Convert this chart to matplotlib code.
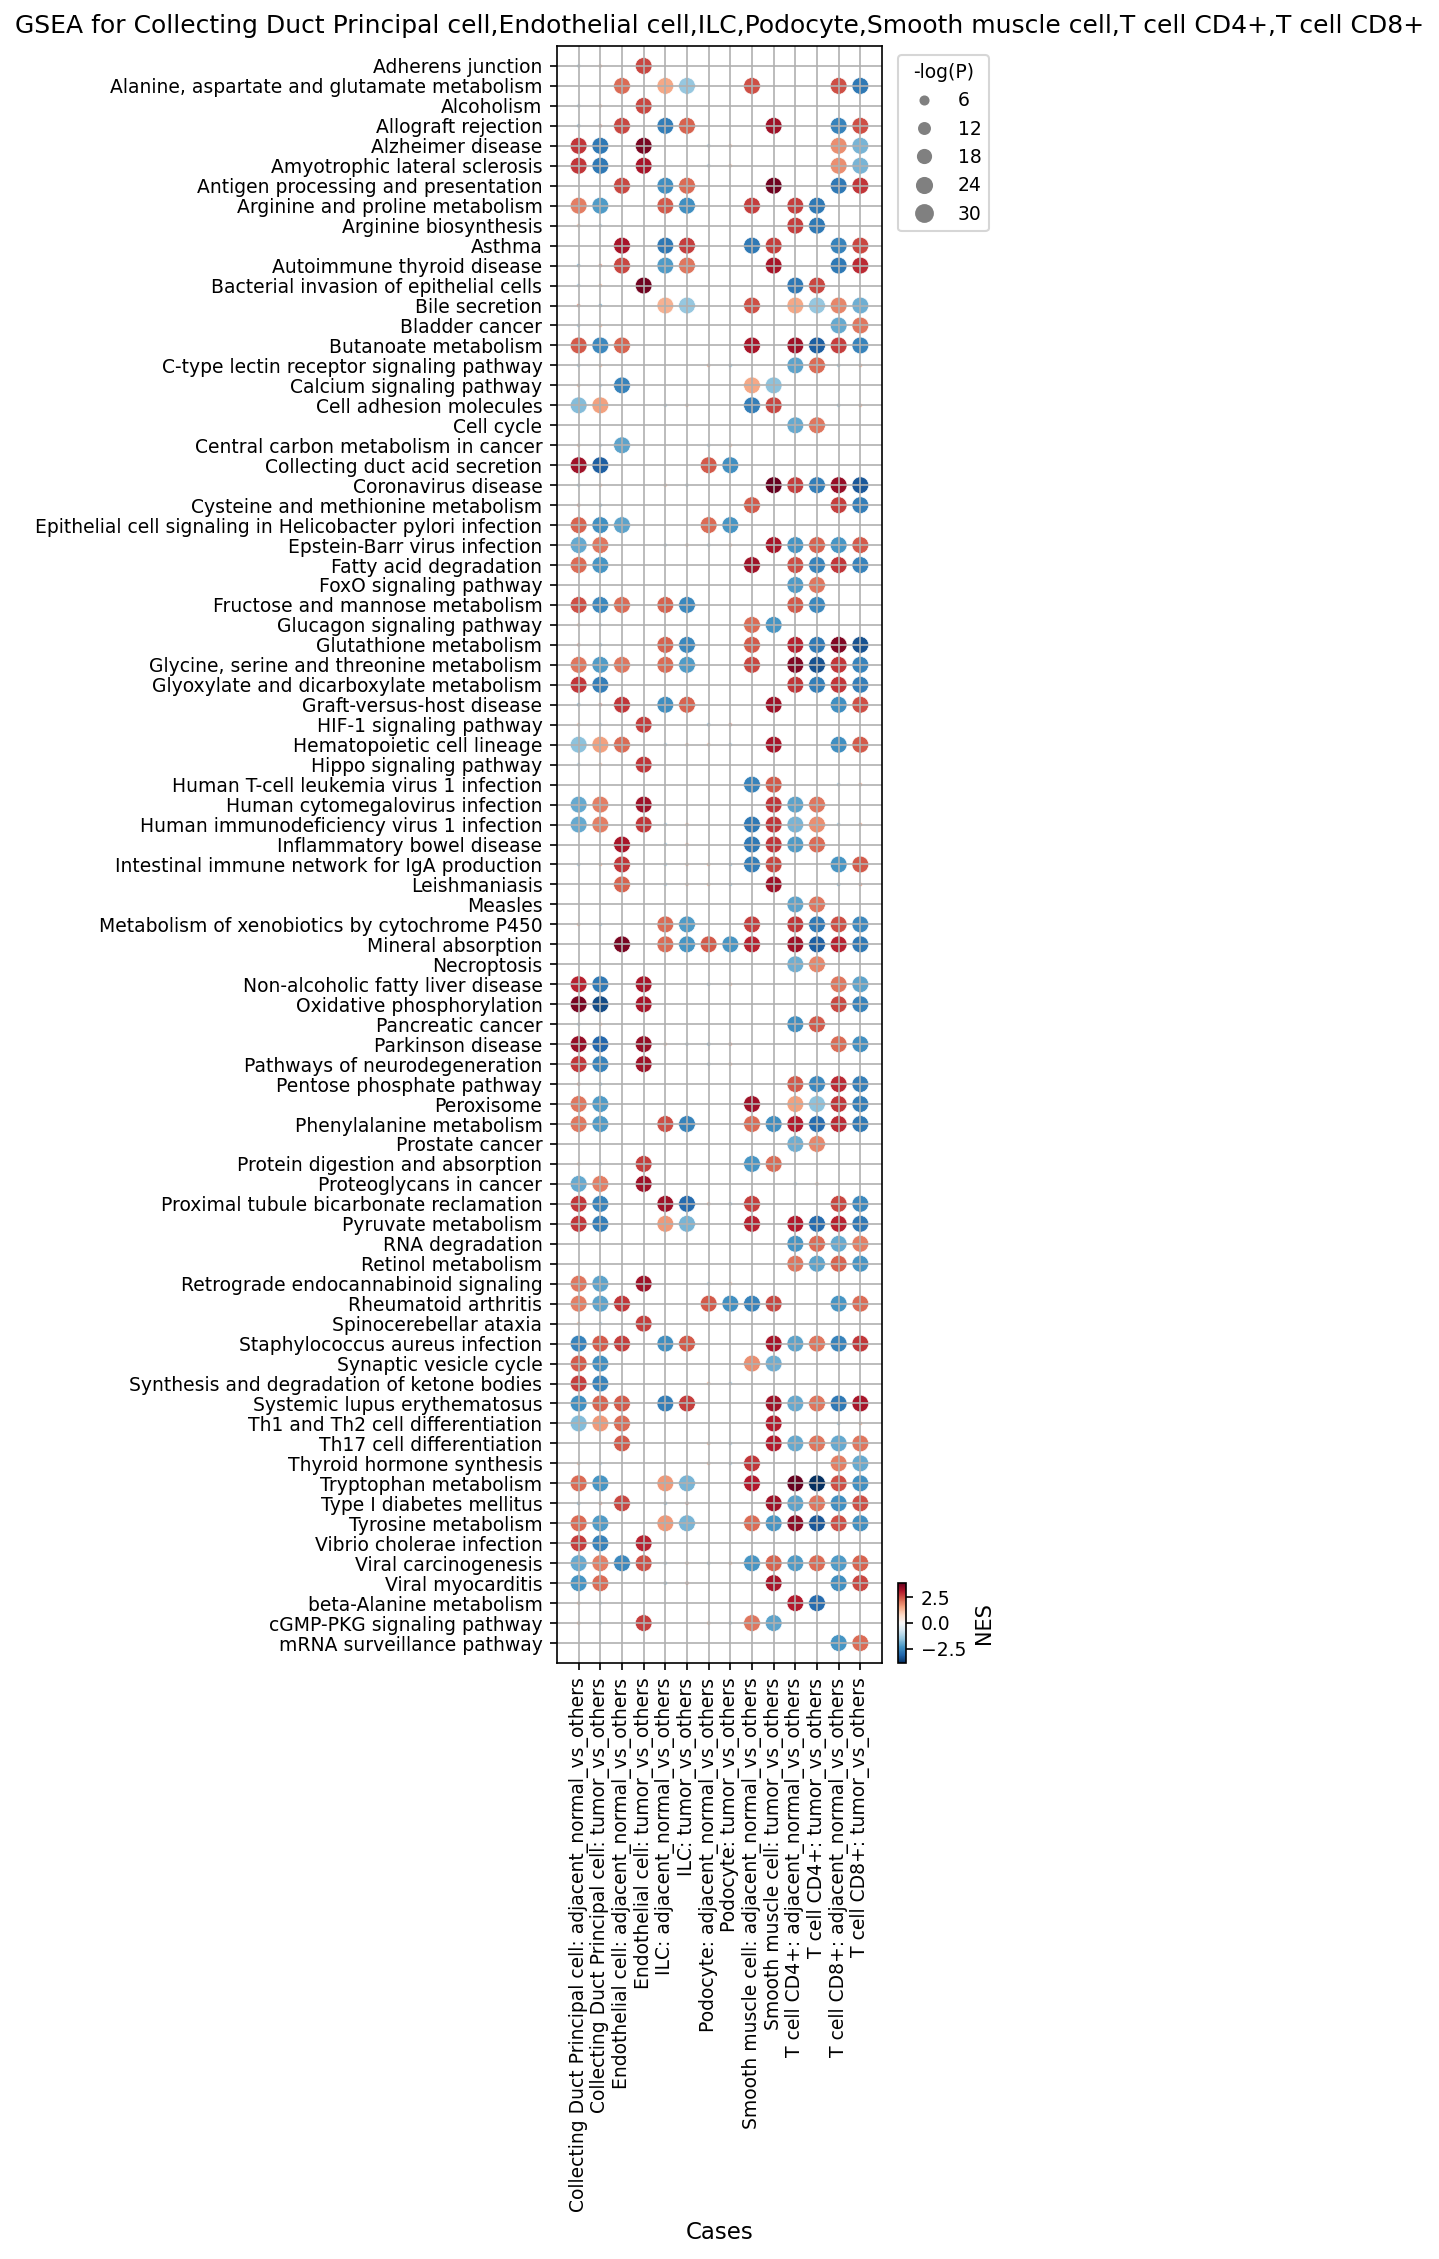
import numpy as np
import matplotlib
matplotlib.use("Agg")
import matplotlib.pyplot as plt
from matplotlib.colors import Normalize
from matplotlib.lines import Line2D

na = np.nan

pathways = [
    "Adherens junction", "Alanine, aspartate and glutamate metabolism", "Alcoholism",
    "Allograft rejection", "Alzheimer disease", "Amyotrophic lateral sclerosis",
    "Antigen processing and presentation", "Arginine and proline metabolism",
    "Arginine biosynthesis", "Asthma", "Autoimmune thyroid disease",
    "Bacterial invasion of epithelial cells", "Bile secretion", "Bladder cancer",
    "Butanoate metabolism", "C-type lectin receptor signaling pathway",
    "Calcium signaling pathway", "Cell adhesion molecules", "Cell cycle",
    "Central carbon metabolism in cancer", "Collecting duct acid secretion",
    "Coronavirus disease", "Cysteine and methionine metabolism",
    "Epithelial cell signaling in Helicobacter pylori infection",
    "Epstein-Barr virus infection", "Fatty acid degradation", "FoxO signaling pathway",
    "Fructose and mannose metabolism", "Glucagon signaling pathway",
    "Glutathione metabolism", "Glycine, serine and threonine metabolism",
    "Glyoxylate and dicarboxylate metabolism", "Graft-versus-host disease",
    "HIF-1 signaling pathway", "Hematopoietic cell lineage", "Hippo signaling pathway",
    "Human T-cell leukemia virus 1 infection", "Human cytomegalovirus infection",
    "Human immunodeficiency virus 1 infection", "Inflammatory bowel disease",
    "Intestinal immune network for IgA production", "Leishmaniasis", "Measles",
    "Metabolism of xenobiotics by cytochrome P450", "Mineral absorption", "Necroptosis",
    "Non-alcoholic fatty liver disease", "Oxidative phosphorylation", "Pancreatic cancer",
    "Parkinson disease", "Pathways of neurodegeneration", "Pentose phosphate pathway",
    "Peroxisome", "Phenylalanine metabolism", "Prostate cancer",
    "Protein digestion and absorption", "Proteoglycans in cancer",
    "Proximal tubule bicarbonate reclamation", "Pyruvate metabolism", "RNA degradation",
    "Retinol metabolism", "Retrograde endocannabinoid signaling", "Rheumatoid arthritis",
    "Spinocerebellar ataxia", "Staphylococcus aureus infection", "Synaptic vesicle cycle",
    "Synthesis and degradation of ketone bodies", "Systemic lupus erythematosus",
    "Th1 and Th2 cell differentiation", "Th17 cell differentiation",
    "Thyroid hormone synthesis", "Tryptophan metabolism", "Type I diabetes mellitus",
    "Tyrosine metabolism", "Vibrio cholerae infection", "Viral carcinogenesis",
    "Viral myocarditis", "beta-Alanine metabolism", "cGMP-PKG signaling pathway",
    "mRNA surveillance pathway",
]

cases = [
    "Collecting Duct Principal cell: adjacent_normal_vs_others",
    "Collecting Duct Principal cell: tumor_vs_others",
    "Endothelial cell: adjacent_normal_vs_others",
    "Endothelial cell: tumor_vs_others",
    "ILC: adjacent_normal_vs_others",
    "ILC: tumor_vs_others",
    "Podocyte: adjacent_normal_vs_others",
    "Podocyte: tumor_vs_others",
    "Smooth muscle cell: adjacent_normal_vs_others",
    "Smooth muscle cell: tumor_vs_others",
    "T cell CD4+: adjacent_normal_vs_others",
    "T cell CD4+: tumor_vs_others",
    "T cell CD8+: adjacent_normal_vs_others",
    "T cell CD8+: tumor_vs_others",
]

# NES: one row per pathway, one column per case (na = not shown)
nes = [
    [-1.4, 1.4, na, 2.6, na, na, na, na, na, na, na, na, na, na],
    [na, na, 2.2, na, 1.5, -1.5, na, na, 2.5, na, na, na, 2.5, -2.8],
    [-1.4, 1.4, na, 2.6, na, na, na, na, na, na, na, na, na, na],
    [-2.0, 2.0, 2.6, na, -2.7, 2.3, na, na, na, 3.3, na, na, -2.6, 2.5],
    [2.8, -2.8, na, 3.7, na, na, -1.4, 1.4, na, na, na, na, 1.8, -1.8],
    [2.8, -2.8, na, 3.2, na, na, -1.4, 1.4, na, na, na, na, 1.8, -1.8],
    [na, na, 2.6, na, -2.4, 2.2, na, na, na, 3.8, na, na, -2.8, 2.8],
    [2.0, -2.2, na, na, 2.4, -2.4, na, na, 2.7, na, 2.7, -2.8, na, na],
    [1.4, -1.4, na, na, na, na, na, na, na, na, 2.7, -2.8, na, na],
    [na, na, 3.2, na, -2.8, 2.7, na, na, -2.8, 2.7, na, na, -2.6, 2.6],
    [-2.0, 2.0, 2.6, na, -2.2, 2.1, na, na, na, 3.2, na, na, -2.8, 2.9],
    [-1.4, 1.4, na, 3.8, na, na, na, na, na, na, -2.8, 2.6, na, na],
    [2.0, -2.0, na, na, 1.4, -1.5, na, na, 2.5, na, 1.5, -1.5, 1.9, -1.9],
    [-1.4, 1.4, na, na, na, na, na, na, na, na, na, na, -2.0, 2.1],
    [2.4, -2.5, 2.3, na, na, na, na, na, 3.2, na, 3.3, -3.2, 2.7, -2.6],
    [-1.4, 1.4, na, na, na, na, 1.6, -1.6, na, na, -2.1, 2.2, -1.6, 1.6],
    [1.4, -1.4, -2.6, na, na, na, na, na, 1.5, -1.6, na, na, na, na],
    [-1.7, 1.6, na, na, -1.4, 1.4, na, na, -2.7, 2.6, na, na, -1.6, 1.6],
    [na, na, na, na, na, na, na, na, na, na, -2.0, 2.1, na, na],
    [1.4, -1.4, -2.1, na, na, na, -1.4, 1.4, na, na, na, na, na, na],
    [3.3, -3.2, na, na, na, na, 2.4, -2.4, na, na, na, na, na, na],
    [-1.4, 1.4, na, na, 1.4, -1.4, na, na, na, 3.9, 2.7, -2.7, 3.4, -3.3],
    [2.0, -2.0, na, na, na, na, na, na, 2.4, na, na, na, 2.7, -2.7],
    [2.3, -2.4, -2.1, na, na, na, 2.2, -2.3, na, na, na, na, na, na],
    [-2.0, 2.1, na, na, -1.4, 1.4, -1.4, 1.4, na, 3.2, -2.3, 2.3, -2.3, 2.4],
    [2.2, -2.3, na, na, na, na, na, na, 3.3, na, 2.5, -2.6, 2.8, -2.6],
    [na, na, na, na, na, na, na, na, na, na, -2.2, 2.1, na, na],
    [2.5, -2.5, 2.2, na, 2.3, -2.5, na, na, na, na, 2.4, -2.5, na, na],
    [1.4, -1.4, na, na, na, na, na, na, 2.2, -2.3, na, na, na, na],
    [2.0, -2.0, na, na, 2.3, -2.5, na, na, 2.4, na, 3.0, -2.8, 3.6, -3.4],
    [2.1, -2.2, 2.1, na, 2.2, -2.2, na, na, 2.6, na, 3.6, -3.4, 2.8, -2.6],
    [2.8, -2.7, na, na, na, na, na, na, na, na, 2.8, -2.7, 2.8, -2.7],
    [-2.2, 2.2, 2.8, na, -2.4, 2.3, na, na, na, 3.3, na, na, -2.4, 2.5],
    [1.4, -1.4, na, 2.7, na, na, -2.0, 2.0, na, na, na, na, na, na],
    [-1.6, 1.6, 2.2, na, -1.4, 1.4, 1.4, -1.4, na, 3.2, na, na, -2.4, 2.4],
    [-1.4, 1.4, na, 2.8, na, na, na, na, na, na, na, na, na, na],
    [na, na, na, na, na, na, na, na, -2.6, 2.4, na, na, -1.6, 1.6],
    [-2.0, 2.0, na, 3.3, na, na, na, na, na, 2.8, -2.1, 2.1, na, na],
    [-2.0, 2.0, na, 2.8, -1.4, 1.4, na, na, -2.8, 2.8, -1.8, 1.8, -1.6, 1.6],
    [na, na, 3.2, na, -1.4, 1.4, na, na, -2.8, 2.8, -2.2, 2.2, na, na],
    [-1.4, 1.4, 2.8, na, -1.4, 1.4, 1.4, -1.4, -2.7, 2.6, na, na, -2.3, 2.4],
    [na, na, 2.3, na, -1.4, 1.4, 1.4, -1.4, na, 3.3, na, na, -1.8, 1.8],
    [na, na, na, na, na, na, na, na, na, na, -2.1, 2.1, na, na],
    [1.4, -1.4, na, na, 2.2, -2.2, na, na, 2.7, na, 2.8, -2.8, 2.5, -2.5],
    [na, na, 3.7, na, 2.2, -2.3, 2.4, -2.3, 3.0, na, 3.3, -3.2, 3.0, -2.8],
    [na, na, na, na, na, na, na, na, na, na, -1.9, 1.9, na, na],
    [3.0, -2.8, na, 3.2, na, na, -1.4, 1.4, na, na, na, na, 2.1, -2.1],
    [3.7, -3.5, na, 3.2, na, na, na, na, na, na, na, na, 2.6, -2.6],
    [-1.4, 1.4, na, na, na, na, na, na, na, na, -2.4, 2.4, na, na],
    [3.4, -3.1, na, 3.4, 1.4, -1.4, -2.0, 2.0, na, na, na, na, 2.2, -2.4],
    [2.8, -2.6, na, 3.3, na, na, -1.4, 1.4, na, na, na, na, na, na],
    [2.0, -2.0, na, na, na, na, na, na, na, na, 2.4, -2.5, 2.9, -2.7],
    [2.1, -2.2, na, na, na, na, na, na, 3.3, na, 1.6, -1.6, 2.8, -2.7],
    [2.1, -2.2, na, na, 2.5, -2.6, na, na, 2.2, -2.4, 3.1, -3.0, 2.9, -2.8],
    [na, na, na, na, na, na, na, na, na, na, -1.9, 1.9, na, na],
    [1.4, -1.4, na, 2.7, na, na, na, na, -2.3, 2.2, na, na, na, na],
    [-2.0, 2.0, na, 3.3, na, na, na, na, na, na, -1.4, 1.4, na, na],
    [2.8, -2.6, na, na, 3.3, -3.0, 1.6, -1.6, 2.7, na, na, na, 2.6, -2.5],
    [2.8, -2.7, na, na, 1.7, -1.8, na, na, 3.0, na, 3.1, -3.0, 3.0, -2.8],
    [na, na, na, na, na, na, na, na, na, na, -2.3, 2.2, -2.0, 2.0],
    [na, na, na, na, na, na, na, na, na, na, 2.1, -2.1, 2.3, -2.3],
    [2.1, -2.1, na, 3.3, na, na, -1.4, 1.4, na, na, na, na, na, na],
    [2.0, -2.1, 2.8, na, na, na, 2.4, -2.4, -2.6, 2.6, na, na, -2.3, 2.2],
    [1.4, -1.4, na, 2.7, na, na, na, na, na, na, na, na, na, na],
    [-2.6, 2.4, 2.7, na, -2.4, 2.4, na, na, na, 3.2, -2.1, 2.1, -2.6, 2.8],
    [2.4, -2.4, na, na, na, na, na, na, 1.8, -1.9, na, na, na, na],
    [2.7, -2.6, na, na, na, na, 1.4, -1.4, na, na, na, na, na, na],
    [-2.4, 2.3, 2.4, na, -2.7, 2.7, na, na, na, 3.3, -2.0, 2.1, -2.8, 3.2],
    [-1.7, 1.7, 2.2, na, na, na, na, na, na, 3.1, na, na, -1.6, 1.6],
    [na, na, 2.4, na, na, na, 1.4, -1.4, na, 3.1, -2.0, 2.1, -2.0, 2.1],
    [1.4, -1.4, na, na, na, na, 1.4, -1.4, 2.8, na, na, na, 2.0, -2.0],
    [2.2, -2.3, na, na, 1.7, -1.8, na, na, 3.1, na, 3.95, -3.95, 2.5, -2.4],
    [-2.0, 2.0, 2.6, na, -2.0, 2.0, na, na, na, 3.3, -2.1, 2.1, -2.4, 2.5],
    [2.2, -2.2, na, na, 1.7, -1.8, na, na, 2.2, -2.3, 3.5, -3.3, 2.5, -2.4],
    [2.7, -2.6, na, 3.0, na, na, na, na, na, na, na, na, na, na],
    [-2.0, 2.0, -2.5, 2.5, -1.4, 1.4, -1.4, 1.4, -2.3, 2.3, -2.2, 2.2, -2.2, 2.3],
    [-2.3, 2.2, na, na, -2.0, 2.0, na, na, na, 3.2, na, na, -2.4, 2.6],
    [1.4, -1.4, na, na, na, na, na, na, na, na, 3.1, -3.0, na, na],
    [1.4, -1.4, na, 2.7, na, na, 1.4, -1.4, 2.1, -2.1, na, na, na, na],
    [na, na, na, na, na, na, na, na, na, na, na, na, -2.3, 2.2],
]

# -log(P), same layout as nes
neglogp = [
    [0.7, 0.7, na, 30, na, na, na, na, na, na, na, na, na, na],
    [na, na, 30, na, 30, 30, na, na, 30, na, na, na, 30, 30],
    [0.7, 0.7, na, 30, na, na, na, na, na, na, na, na, na, na],
    [0.7, 0.7, 30, na, 30, 30, na, na, na, 30, na, na, 30, 30],
    [30, 30, na, 30, na, na, 0.7, 0.7, na, na, na, na, 30, 30],
    [30, 30, na, 30, na, na, 0.7, 0.7, na, na, na, na, 30, 30],
    [na, na, 30, na, 30, 30, na, na, na, 30, na, na, 30, 30],
    [30, 30, na, na, 30, 30, na, na, 30, na, 30, 30, na, na],
    [0.7, 0.7, na, na, na, na, na, na, na, na, 30, 30, na, na],
    [na, na, 30, na, 30, 30, na, na, 30, 30, na, na, 30, 30],
    [0.7, 0.7, 30, na, 30, 30, na, na, na, 30, na, na, 30, 30],
    [0.7, 0.7, na, 30, na, na, na, na, na, na, 30, 30, na, na],
    [0.7, 0.7, na, na, 30, 30, na, na, 30, na, 30, 30, 30, 30],
    [0.7, 0.7, na, na, na, na, na, na, na, na, na, na, 30, 30],
    [30, 30, 30, na, na, na, na, na, 30, na, 30, 30, 30, 30],
    [0.7, 0.7, na, na, na, na, 0.7, 0.7, na, na, 30, 30, 0.7, 0.7],
    [0.7, 0.7, 30, na, na, na, na, na, 30, 30, na, na, na, na],
    [30, 30, na, na, 0.7, 0.7, na, na, 30, 30, na, na, 0.7, 0.7],
    [na, na, na, na, na, na, na, na, na, na, 30, 30, na, na],
    [0.7, 0.7, 30, na, na, na, 0.7, 0.7, na, na, na, na, na, na],
    [30, 30, na, na, na, na, 30, 30, na, na, na, na, na, na],
    [0.7, 0.7, na, na, 0.7, 0.7, na, na, na, 30, 30, 30, 30, 30],
    [0.7, 0.7, na, na, na, na, na, na, 30, na, na, na, 30, 30],
    [30, 30, 30, na, na, na, 30, 30, na, na, na, na, na, na],
    [30, 30, na, na, 0.7, 0.7, 0.7, 0.7, na, 30, 30, 30, 30, 30],
    [30, 30, na, na, na, na, na, na, 30, na, 30, 30, 30, 30],
    [na, na, na, na, na, na, na, na, na, na, 30, 30, na, na],
    [30, 30, 30, na, 30, 30, na, na, na, na, 30, 30, na, na],
    [0.7, 0.7, na, na, na, na, na, na, 30, 30, na, na, na, na],
    [0.7, 0.7, na, na, 30, 30, na, na, 30, na, 30, 30, 30, 30],
    [30, 30, 30, na, 30, 30, na, na, 30, na, 30, 30, 30, 30],
    [30, 30, na, na, na, na, na, na, na, na, 30, 30, 30, 30],
    [0.7, 0.7, 30, na, 30, 30, na, na, na, 30, na, na, 30, 30],
    [0.7, 0.7, na, 30, na, na, 0.7, 0.7, na, na, na, na, na, na],
    [30, 30, 30, na, 0.7, 0.7, 0.7, 0.7, na, 30, na, na, 30, 30],
    [0.7, 0.7, na, 30, na, na, na, na, na, na, na, na, na, na],
    [na, na, na, na, na, na, na, na, 30, 30, na, na, 0.7, 0.7],
    [30, 30, na, 30, na, na, na, na, na, 30, 30, 30, na, na],
    [30, 30, na, 30, 0.7, 0.7, na, na, 30, 30, 30, 30, 0.7, 0.7],
    [na, na, 30, na, 0.7, 0.7, na, na, 30, 30, 30, 30, na, na],
    [0.7, 0.7, 30, na, 0.7, 0.7, 0.7, 0.7, 30, 30, na, na, 30, 30],
    [na, na, 30, na, 0.7, 0.7, 0.7, 0.7, na, 30, na, na, 0.7, 0.7],
    [na, na, na, na, na, na, na, na, na, na, 30, 30, na, na],
    [0.7, 0.7, na, na, 30, 30, na, na, 30, na, 30, 30, 30, 30],
    [na, na, 30, na, 30, 30, 30, 30, 30, na, 30, 30, 30, 30],
    [na, na, na, na, na, na, na, na, na, na, 30, 30, na, na],
    [30, 30, na, 30, na, na, 0.7, 0.7, na, na, na, na, 30, 30],
    [30, 30, na, 30, na, na, na, na, na, na, na, na, 30, 30],
    [0.7, 0.7, na, na, na, na, na, na, na, na, 30, 30, na, na],
    [30, 30, na, 30, 0.7, 0.7, 0.7, 0.7, na, na, na, na, 30, 30],
    [30, 30, na, 30, na, na, 0.7, 0.7, na, na, na, na, na, na],
    [0.7, 0.7, na, na, na, na, na, na, na, na, 30, 30, 30, 30],
    [30, 30, na, na, na, na, na, na, 30, na, 30, 30, 30, 30],
    [30, 30, na, na, 30, 30, na, na, 30, 30, 30, 30, 30, 30],
    [na, na, na, na, na, na, na, na, na, na, 30, 30, na, na],
    [0.7, 0.7, na, 30, na, na, na, na, 30, 30, na, na, na, na],
    [30, 30, na, 30, na, na, na, na, na, na, 0.7, 0.7, na, na],
    [30, 30, na, na, 30, 30, 0.7, 0.7, 30, na, na, na, 30, 30],
    [30, 30, na, na, 30, 30, na, na, 30, na, 30, 30, 30, 30],
    [na, na, na, na, na, na, na, na, na, na, 30, 30, 30, 30],
    [na, na, na, na, na, na, na, na, na, na, 30, 30, 30, 30],
    [30, 30, na, 30, na, na, 0.7, 0.7, na, na, na, na, na, na],
    [30, 30, 30, na, na, na, 30, 30, 30, 30, na, na, 30, 30],
    [0.7, 0.7, na, 30, na, na, na, na, na, na, na, na, na, na],
    [30, 30, 30, na, 30, 30, na, na, na, 30, 30, 30, 30, 30],
    [30, 30, na, na, na, na, na, na, 30, 30, na, na, na, na],
    [30, 30, na, na, na, na, 0.7, 0.7, na, na, na, na, na, na],
    [30, 30, 30, na, 30, 30, na, na, na, 30, 30, 30, 30, 30],
    [30, 30, 30, na, na, na, na, na, na, 30, na, na, 0.7, 0.7],
    [na, na, 30, na, na, na, 0.7, 0.7, na, 30, 30, 30, 30, 30],
    [0.7, 0.7, na, na, na, na, 0.7, 0.7, 30, na, na, na, 30, 30],
    [30, 30, na, na, 30, 30, na, na, 30, na, 30, 30, 30, 30],
    [0.7, 0.7, 30, na, 0.7, 0.7, na, na, na, 30, 30, 30, 30, 30],
    [30, 30, na, na, 30, 30, na, na, 30, 30, 30, 30, 30, 30],
    [30, 30, na, 30, na, na, na, na, na, na, na, na, na, na],
    [30, 30, 30, 30, 0.7, 0.7, 0.7, 0.7, 30, 30, 30, 30, 30, 30],
    [30, 30, na, na, 0.7, 0.7, na, na, na, 30, na, na, 30, 30],
    [0.7, 0.7, na, na, na, na, na, na, na, na, 30, 30, na, na],
    [0.7, 0.7, na, 30, na, na, 0.7, 0.7, 30, 30, na, na, na, na],
    [na, na, na, na, na, na, na, na, na, na, na, na, 30, 30],
]

legend_vals = [6, 12, 18, 24, 30]

DPI = 150


def dot_size(v):
    # marker area (pt^2) for a -log(P) value
    return 2.3 + 2.07 * np.asarray(v, dtype=float)


nes_arr = np.array(nes, dtype=float)
lp_arr = np.array(neglogp, dtype=float)
rows, cols = np.where(~np.isnan(nes_arr) & ~np.isnan(lp_arr))

W, H = 1439, 2259
fig = plt.figure(figsize=(W / DPI, H / DPI), dpi=DPI)
ax = fig.add_axes([557 / W, 1 - 1663 / H, 325 / W, 1617 / H])

norm = Normalize(vmin=-3.9, vmax=3.9)
sc = ax.scatter(cols, rows, c=nes_arr[rows, cols], s=dot_size(lp_arr[rows, cols]),
                cmap="RdBu_r", norm=norm, edgecolors="white", linewidths=0.3)

ax.set_xticks(range(len(cases)))
ax.set_xticklabels(cases, rotation=90, fontsize=9)
ax.set_yticks(range(len(pathways)))
ax.set_yticklabels(pathways, fontsize=9)
ax.set_xlim(-1, len(cases))
ax.set_ylim(len(pathways), -1)
ax.grid(True)
ax.set_xlabel("Cases", fontsize=11)
ax.set_title("GSEA for Collecting Duct Principal cell,Endothelial cell,ILC,Podocyte,"
             "Smooth muscle cell,T cell CD4+,T cell CD8+", fontsize=12)

# size legend
handles = [Line2D([], [], marker="o", ls="", color="gray",
                  markersize=np.sqrt(dot_size(v))) for v in legend_vals]
ax.legend(handles, [str(v) for v in legend_vals], title="-log(P)",
          bbox_to_anchor=(1.02, 1), loc="upper left", fontsize=9, title_fontsize=9)

# colorbar
cax = fig.add_axes([898 / W, 1 - 1663 / H, 8 / W, 80 / H])
cb = fig.colorbar(sc, cax=cax)
cb.set_ticks([-2.5, 0, 2.5])
cb.ax.tick_params(labelsize=9)
cb.set_label("NES", fontsize=10)

fig.savefig("out.png", dpi=DPI)
